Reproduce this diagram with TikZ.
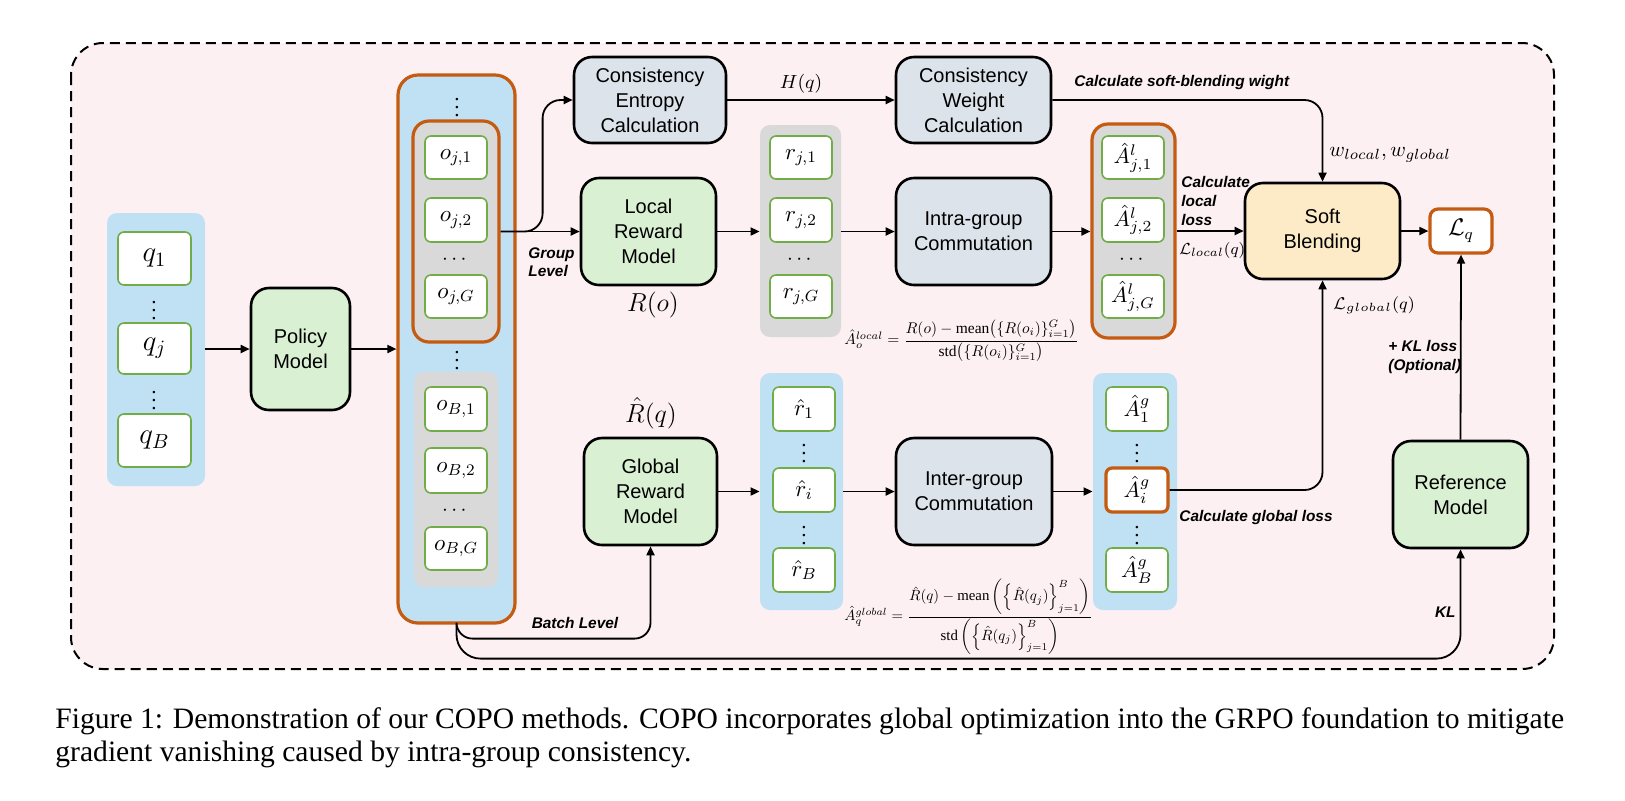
\RequirePackage{fix-cm}
\documentclass[tikz,border=0pt]{standalone}
\usepackage{amsmath}
\usepackage{graphicx}
\usepackage{fontspec}
\setmainfont{Liberation Serif}
\setsansfont{Liberation Sans}
\usetikzlibrary{arrows.meta}

\definecolor{bgpink}{HTML}{FCF0F3}
\definecolor{pblue}{HTML}{BFE1F3}
\definecolor{pgray}{HTML}{D9D9D9}
\definecolor{orng}{HTML}{C55A11}
\definecolor{grn}{HTML}{70AD47}
\definecolor{mgreen}{HTML}{D9F0D3}
\definecolor{calc}{HTML}{DCE3EB}
\definecolor{soft}{HTML}{FCEBC6}

\newcommand{\mk}[7]{\node[#1, minimum width={(#4-#2)*0.5pt}, minimum height={(#5-#3)*0.5pt}] (#6) at ({(#2+#4)/2},{(#3+#5)/2}) {#7};}

\tikzset{
 model/.style={draw=black, line width=1.3pt, rounded corners=9pt, fill=mgreen, font=\sffamily\fontsize{10}{12.5}\selectfont, align=center, inner sep=0pt},
 calcbox/.style={model, fill=calc},
 softbox/.style={model, fill=soft},
 item/.style={draw=grn, line width=0.8pt, fill=white, rounded corners=3pt, inner sep=0pt, font=\fontsize{11.5}{13}\selectfont},
 qitem/.style={item, font=\fontsize{14.5}{16}\selectfont},
 aitem/.style={item, font=\fontsize{11}{13}\selectfont},
 bluepanel/.style={fill=pblue, rounded corners=5pt, inner sep=0pt},
 graypanel/.style={fill=pgray, rounded corners=5pt, inner sep=0pt},
 orangeframe/.style={draw=orng, line width=1.6pt},
 conn/.style={line width=0.9pt, -{Triangle[length=4.5pt,width=4pt]}},
 lbl/.style={font=\sffamily\bfseries\itshape\fontsize{7.7}{9.3}\selectfont, inner sep=0pt, align=left},
 dotn/.style={inner sep=0pt, font=\fontsize{10.5}{12}\selectfont},
 mlbl/.style={inner sep=0pt},
}

\begin{document}
\begin{tikzpicture}[x=0.5pt,y=-0.5pt]
\useasboundingbox[fill=white] (0,0) rectangle (1625,800);

% frame
\draw[line width=1pt, dash pattern=on 5pt off 3pt, fill=bgpink, rounded corners=16pt] (71,43) rectangle (1554,669);

% queries
\mk{bluepanel}{107}{213}{205}{486}{qpanel}{}
\mk{qitem}{118}{232}{191}{285}{q1}{$q_1$}
\node[dotn] (qv1) at (154,305) {$\vdots$};
\mk{qitem}{118}{323}{191}{374}{qj}{$q_j$}
\node[dotn] (qv2) at (154,395) {$\vdots$};
\mk{qitem}{118}{414}{191}{467}{qB}{$q_B$}

\mk{model}{251}{288}{350}{410}{policy}{Policy\\Model}

% outputs
\mk{bluepanel,orangeframe,rounded corners=10pt}{398}{75}{515}{623}{opanel}{}
\node[dotn] (ov0) at (457,102) {$\vdots$};
\mk{graypanel,orangeframe,rounded corners=8pt}{413}{121}{499}{342}{gj}{}
\mk{item}{425}{136}{487}{179}{oj1}{$o_{j,1}$}
\mk{item}{425}{198}{487}{242}{oj2}{$o_{j,2}$}
\node[dotn] (oh1) at (456,260) {$\cdots$};
\mk{item}{425}{275}{487}{318}{ojG}{$o_{j,G}$}
\node[dotn] (ov1) at (457,355) {$\vdots$};
\mk{graypanel}{414}{372}{498}{587}{gb}{}
\mk{item}{425}{387}{487}{431}{oB1}{$o_{B,1}$}
\mk{item}{425}{448}{487}{493}{oB2}{$o_{B,2}$}
\node[dotn] (oh2) at (456,511) {$\cdots$};
\mk{item}{425}{527}{487}{570}{oBG}{$o_{B,G}$}

% upper row
\mk{calcbox}{574}{57}{726}{143}{ce}{Consistency\\Entropy\\Calculation}
\mk{calcbox}{896}{57}{1051}{143}{cw}{Consistency\\Weight\\Calculation}
\mk{model}{581}{178}{716}{285}{lr}{Local\\Reward\\Model}
\mk{calcbox}{896}{178}{1051}{285}{ig}{Intra-group\\Commutation}

\mk{graypanel}{760}{125}{841}{337}{rp}{}
\mk{item}{770}{136}{832}{179}{r1}{$r_{j,1}$}
\mk{item}{770}{198}{832}{242}{r2}{$r_{j,2}$}
\node[dotn] (rh) at (801,260) {$\cdots$};
\mk{item}{770}{275}{832}{318}{rG}{$r_{j,G}$}

\mk{graypanel,orangeframe,rounded corners=8pt}{1092}{124}{1175}{338}{alp}{}
\mk{aitem}{1102}{136}{1164}{179}{al1}{$\hat{A}^{l}_{j,1}$}
\mk{aitem}{1102}{198}{1164}{242}{al2}{$\hat{A}^{l}_{j,2}$}
\node[dotn] (alh) at (1133,260) {$\cdots$};
\mk{aitem}{1102}{275}{1164}{318}{alG}{$\hat{A}^{l}_{j,G}$}

\mk{softbox}{1245}{183}{1400}{279}{sb}{Soft\\Blending}
\mk{item,draw=orng,line width=1.6pt,rounded corners=4pt,font=\fontsize{12}{14}\selectfont}{1430}{209}{1492}{253}{lq}{$\mathcal{L}_q$}
\mk{model}{1393}{441}{1528}{548}{rm}{Reference\\Model}

% lower row
\mk{model}{584}{438}{717}{545}{gr}{Global\\Reward\\Model}
\mk{bluepanel}{760}{373}{843}{610}{rhp}{}
\mk{item}{773}{387}{835}{431}{rh1}{$\hat{r}_1$}
\node[dotn] (rhv1) at (804,448) {$\vdots$};
\mk{item}{773}{468}{835}{512}{rhi}{$\hat{r}_i$}
\node[dotn] (rhv2) at (804,530) {$\vdots$};
\mk{item}{773}{548}{835}{592}{rhB}{$\hat{r}_B$}
\mk{calcbox}{896}{438}{1052}{545}{inter}{Inter-group\\Commutation}
\mk{bluepanel}{1093}{373}{1177}{610}{agp}{}
\mk{aitem}{1106}{387}{1168}{431}{ag1}{$\hat{A}^{g}_{1}$}
\node[dotn] (agv1) at (1137,448) {$\vdots$};
\mk{aitem,draw=orng,line width=1.6pt}{1106}{468}{1168}{512}{agi}{$\hat{A}^{g}_{i}$}
\node[dotn] (agv2) at (1137,530) {$\vdots$};
\mk{aitem}{1106}{548}{1168}{592}{agB}{$\hat{A}^{g}_{B}$}

% connectors
\draw[conn] (qpanel.east |- policy.west) -- (policy.west);
\draw[conn] (policy.east) -- (policy.east -| opanel.west);
\coordinate (gsplit) at (gj.east |- lr.west);
\draw[conn] (gsplit) -- (lr.west);
\draw[conn, rounded corners=9pt] (gsplit) -- ++(42,0) |- (ce.west);
\draw[conn] (ce.east) -- node[pos=0.44, above=3pt, mlbl, font=\fontsize{9.5}{11}\selectfont] (hq) {$H(q)$} (cw.west);
\draw[conn, rounded corners=9pt] (cw.east) -| (sb.north);
\draw[conn] (lr.east) -- (lr.east -| rp.west);
\draw[conn] (rp.east |- ig.west) -- (ig.west);
\draw[conn] (ig.east) -- (ig.east -| alp.west);
\draw[conn] (alp.east |- sb.west) -- (sb.west);
\draw[conn] (sb.east) -- (sb.east -| lq.west);
\draw[conn] (gr.east) -- (gr.east -| rhp.west);
\draw[conn] (rhp.east |- inter.west) -- (inter.west);
\draw[conn] (inter.east) -- (inter.east -| agp.west);
\draw[conn, rounded corners=9pt] (agi.east) -| (sb.south);
\draw[conn, rounded corners=8pt] (opanel.south) -- ++(0,14) -| (gr.south);
\draw[conn, rounded corners=12pt] (opanel.south) -- ++(0,34) -| (rm.south);
\draw[conn] (rm.north) -- (lq.south);

% labels
\node[mlbl, font=\fontsize{13}{15}\selectfont] (Ro) at (653,305) {$R(o)$};
\node[mlbl, font=\fontsize{13}{15}\selectfont] (Rq) at (651,413) {$\hat{R}(q)$};
\node[mlbl, anchor=west, font=\fontsize{10.5}{12}\selectfont] (wl) at (1329,155) {$w_{local}, w_{global}$};
\node[mlbl, anchor=west, font=\fontsize{8}{10}\selectfont] (ll) at (1179,250) {$\mathcal{L}_{local}(q)$};
\node[mlbl, anchor=west, font=\fontsize{8.5}{10}\selectfont] (lg) at (1333,305) {$\mathcal{L}_{global}(q)$};
\node[lbl, anchor=west] (csb) at (1074,83) {Calculate soft-blending wight};
\node[lbl, anchor=west] (cll) at (1181,201) {Calculate\\local\\loss};
\node[lbl, anchor=west] (cgl) at (1179,518) {Calculate global loss};
\node[lbl, anchor=west] (glv) at (528,262) {Group\\Level};
\node[lbl] (blv) at (575,623) {Batch Level};
\node[lbl, anchor=east] (kll) at (1456,612) {KL};
\node[lbl, anchor=west] (klo) at (1388,357) {+ KL loss\\(Optional)};

% formulas
\node[mlbl, anchor=west] (flocal) at (844,341) {\resizebox{117pt}{!}{$\hat{A}_o^{local} = \dfrac{R(o) - \operatorname{mean}\bigl(\{R(o_i)\}_{i=1}^{G}\bigr)}{\operatorname{std}\bigl(\{R(o_i)\}_{i=1}^{G}\bigr)}$}};
\node[mlbl, anchor=west] (fglobal) at (844,617) {\resizebox{124pt}{!}{$\hat{A}_q^{global} = \dfrac{\hat{R}(q) - \operatorname{mean}\left(\left\{\hat{R}(q_j)\right\}_{j=1}^{B}\right)}{\operatorname{std}\left(\left\{\hat{R}(q_j)\right\}_{j=1}^{B}\right)}$}};

% caption
\node[anchor=base west, inner sep=0pt, font=\fontsize{14.8}{16.5}\selectfont] (cap1) at (55,728) {Figure 1: Demonstration of our COPO methods. COPO incorporates global optimization into the GRPO foundation to mitigate};
\node[anchor=base west, inner sep=0pt, font=\fontsize{14.8}{16.5}\selectfont] (cap2) at (55,761) {gradient vanishing caused by intra-group consistency.};
\end{tikzpicture}
\end{document}
